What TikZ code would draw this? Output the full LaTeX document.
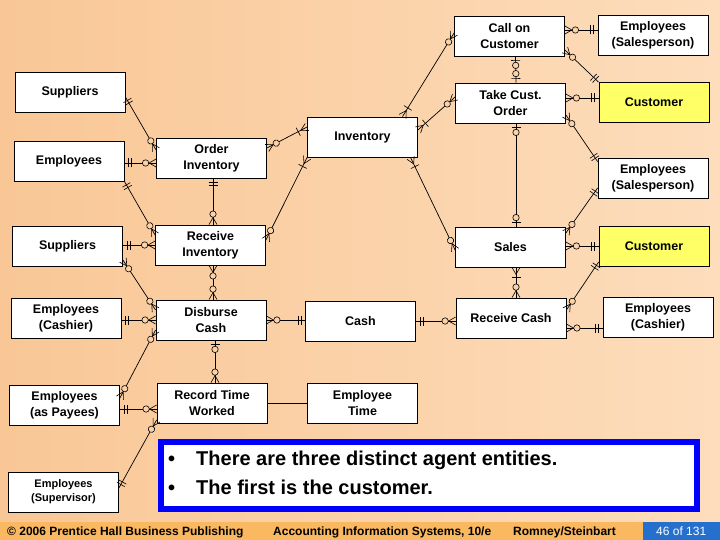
\documentclass[tikz,border=0pt]{standalone}
\usepackage{fontspec}
\setmainfont{Liberation Sans}
\usetikzlibrary{decorations.markings}
\definecolor{bgleft}{RGB}{249,199,150}
\definecolor{bgright}{RGB}{253,221,188}
\definecolor{bgmid}{RGB}{251,210,168}
\definecolor{custyellow}{RGB}{255,255,102}
\definecolor{noteblue}{RGB}{0,0,255}
\definecolor{footorange}{RGB}{250,184,96}
\definecolor{footblue}{RGB}{36,112,204}
\tikzset{
  ent/.style={draw, line width=0.8pt, fill=white, minimum width=110pt, minimum height=40pt,
    inner sep=1pt, align=center, font=\bfseries\fontsize{12.5}{16}\selectfont},
  rel/.style={line width=0.7pt},
  mk/.style={line width=0.6pt},
  startone/.style={postaction={decorate,decoration={markings,
    mark=at position 4pt with {\draw[mk] (0,-4.5pt) -- (0,4.5pt);},
    mark=at position 7pt with {\draw[mk] (0,-4.5pt) -- (0,4.5pt);}}}},
  endone/.style={postaction={decorate,decoration={markings,
    mark=at position -7pt with {\draw[mk] (0,-4.5pt) -- (0,4.5pt);},
    mark=at position -4pt with {\draw[mk] (0,-4.5pt) -- (0,4.5pt);}}}},
  startzm/.style={postaction={decorate,decoration={markings,
    mark=at position 7pt with {\draw[mk] (-7pt,4pt) -- (0,0) -- (-7pt,-4pt);},
    mark=at position 10.5pt with {\draw[mk,fill=bgmid] (0,0) circle (3.2pt);}}}},
  endzm/.style={postaction={decorate,decoration={markings,
    mark=at position -10.5pt with {\draw[mk,fill=bgmid] (0,0) circle (3.2pt);},
    mark=at position -7pt with {\draw[mk] (7pt,4pt) -- (0,0) -- (7pt,-4pt);}}}},
  startzo/.style={postaction={decorate,decoration={markings,
    mark=at position 4pt with {\draw[mk] (0,-4.5pt) -- (0,4.5pt);},
    mark=at position 9pt with {\draw[mk,fill=bgmid] (0,0) circle (3.2pt);}}}},
  endzo/.style={postaction={decorate,decoration={markings,
    mark=at position -9pt with {\draw[mk,fill=bgmid] (0,0) circle (3.2pt);},
    mark=at position -4pt with {\draw[mk] (0,-4.5pt) -- (0,4.5pt);}}}},
  startom/.style={postaction={decorate,decoration={markings,
    mark=at position 7pt with {\draw[mk] (-7pt,4pt) -- (0,0) -- (-7pt,-4pt);},
    mark=at position 10pt with {\draw[mk] (0,-4.5pt) -- (0,4.5pt);}}}},
  endom/.style={postaction={decorate,decoration={markings,
    mark=at position -10pt with {\draw[mk] (0,-4.5pt) -- (0,4.5pt);},
    mark=at position -7pt with {\draw[mk] (7pt,4pt) -- (0,0) -- (7pt,-4pt);}}}},
  foot/.style={anchor=base west, inner sep=0pt, font=\bfseries\fontsize{12}{14}\selectfont}
}
\begin{document}
\begin{tikzpicture}[x=1pt, y=-1pt]
\useasboundingbox (0,0) rectangle (720,540);
\shade[left color=bgleft, right color=bgright] (0,0) rectangle (720,522);

\node[ent] (coc) at (509.5,36) {Call on\\Customer};
\node[ent] (esp1) at (653,35) {Employees\\(Salesperson)};
\node[ent] (sup1) at (70,92) {Suppliers};
\node[ent] (tco) at (510.5,103) {Take Cust.\\Order};
\node[ent, fill=custyellow] (cus1) at (654,102.5) {Customer};
\node[ent] (inv) at (362.5,137) {Inventory};
\node[ent] (emp1) at (69,161) {Employees};
\node[ent] (oinv) at (211.5,158) {Order\\Inventory};
\node[ent] (esp2) at (653,178) {Employees\\(Salesperson)};
\node[ent] (sup2) at (67.5,246) {Suppliers};
\node[ent] (rinv) at (210.5,245) {Receive\\Inventory};
\node[ent] (sales) at (510.5,247) {Sales};
\node[ent, fill=custyellow] (cus2) at (654,246) {Customer};
\node[ent] (ecash1) at (66,318) {Employees\\(Cashier)};
\node[ent] (dcash) at (211,320) {Disburse\\Cash};
\node[ent] (cash) at (360.5,321) {Cash};
\node[ent] (rcash) at (511,318) {Receive Cash};
\node[ent] (ecash2) at (658,317) {Employees\\(Cashier)};
\node[ent] (epay) at (64.5,405) {Employees\\(as Payees)};
\node[ent] (rtw) at (212,403) {Record Time\\Worked};
\node[ent] (etime) at (362.5,403) {Employee\\Time};
\node[ent, font=\bfseries\fontsize{11}{14}\selectfont] (esup) at (63.5,492) {Employees\\(Supervisor)};

\draw[rel,startzm,endone] ([yshift=6pt]coc.east) -- ([yshift=5pt]esp1.west);
\draw[rel,startzm,endone] ([yshift=-14pt]coc.east) -- (cus1.north west);
\draw[rel,startzo,endzo] ([xshift=6pt]coc.south) -- ([xshift=5.5pt]tco.north);
\draw[rel,startzm,endom] ([yshift=3pt]coc.west) -- ([xshift=40pt]inv.north);
\draw[rel,startzm,endone] ([yshift=5pt]tco.east) -- ([yshift=4.5pt]cus1.west);
\draw[rel,startzm,endone] ([yshift=-12pt]tco.east) -- ([yshift=-4pt]esp2.north west);
\draw[rel,startzm,endom] ([yshift=6pt]tco.west) -- ([yshift=7pt]inv.east);
\draw[rel,startzo,endzo] ([xshift=5.5pt]tco.south) -- ([xshift=5.5pt]sales.north);
\draw[rel,startzm,endom] ([yshift=10pt]oinv.east) -- ([yshift=10pt]inv.west);
\draw[rel,startzm,endom] ([yshift=5pt]rinv.east) -- (inv.south west);
\draw[rel,startzm,endom] ([yshift=-3pt]sales.west) -- ([xshift=48pt]inv.south);
\draw[rel,startone,endzm] ([yshift=-2pt]emp1.east) -- ([yshift=-5pt]oinv.west);
\draw[rel,startone,endzm] ([yshift=-5pt]sup1.east) -- ([yshift=8pt]oinv.west);
\draw[rel,startone,endzm] ([xshift=1.5pt]oinv.south) -- ([xshift=2.5pt]rinv.north);
\draw[rel,startone,endzm] (emp1.south east) -- ([yshift=10pt]rinv.west);
\draw[rel,startone,endzm] ([yshift=1pt]sup2.east) -- (rinv.west);
\draw[rel,startzm,endzm] ([yshift=-14pt]sup2.east) -- ([yshift=10pt]dcash.west);
\draw[rel,startzm,endzm] ([xshift=2.5pt]rinv.south) -- ([xshift=2pt]dcash.north);
\draw[rel,startone,endzm] ([yshift=-2pt]ecash1.east) -- (dcash.west);
\draw[rel,startzm,endone] (dcash.east) -- ([yshift=1pt]cash.west);
\draw[rel,startzm,endzm] ([yshift=-10pt]dcash.west) -- ([yshift=7pt]epay.east);
\draw[rel,startzo,endzm] ([xshift=4pt]dcash.south) -- ([xshift=3pt]rtw.north);
\draw[rel,startone,endzm] ([yshift=-4pt]epay.east) -- ([yshift=-6pt]rtw.west);
\draw[rel,startone,endzm] ([yshift=4pt]esup.east) -- ([yshift=-17pt]rtw.west);
\draw[rel] (rtw.east) -- (etime.west);
\draw[rel,startone,endzm] (cash.east) -- ([yshift=-3pt]rcash.west);
\draw[rel,startom,endzm] ([xshift=5.5pt]sales.south) -- ([xshift=5pt]rcash.north);
\draw[rel,startzm,endone] ([yshift=1pt]sales.east) -- (cus2.west);
\draw[rel,startone,endzm] ([yshift=-10pt]esp2.west) -- ([yshift=14pt]sales.east);
\draw[rel,startone,endzm] ([yshift=-16pt]cus2.west) -- ([yshift=8pt]rcash.east);
\draw[rel,startzm,endone] ([yshift=-10pt]rcash.east) -- ([yshift=-11pt]ecash2.west);

\draw[line width=6pt, noteblue, fill=white] (161,442) rectangle (697,509);
\node[anchor=base west, inner sep=0pt, font=\bfseries\fontsize{20}{24}\selectfont] (b1) at (168,465) {•};
\node[anchor=base west, inner sep=0pt, font=\bfseries\fontsize{20}{24}\selectfont] (t1) at (196,465) {There are three distinct agent entities.};
\node[anchor=base west, inner sep=0pt, font=\bfseries\fontsize{20}{24}\selectfont] (b2) at (168,494) {•};
\node[anchor=base west, inner sep=0pt, font=\bfseries\fontsize{20}{24}\selectfont] (t2) at (196,494) {The first is the customer.};

\fill[footorange] (0,522) rectangle (720,540);
\fill[footblue] (643,522) rectangle (720,540);
\node[foot] (f1) at (7,535) {© 2006 Prentice Hall Business Publishing};
\node[foot] (f2) at (273,535) {Accounting Information Systems, 10/e};
\node[foot] (f3) at (513,535) {Romney/Steinbart};
\node[foot, font=\fontsize{12}{14}\selectfont, text=white] (f4) at (656,535) {46 of 131};
\end{tikzpicture}
\end{document}
